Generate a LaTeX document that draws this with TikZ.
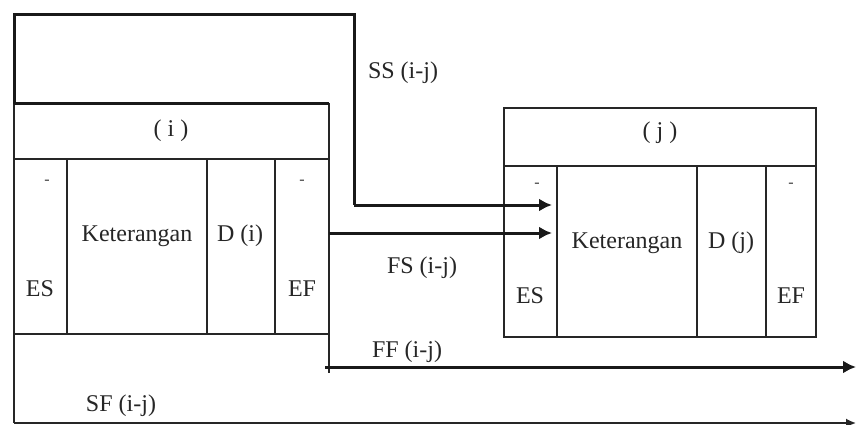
\documentclass[tikz,border=0pt]{standalone}
\usepackage{fontspec}
\setmainfont{Liberation Serif}
\usetikzlibrary{arrows.meta}
\begin{document}
\begin{tikzpicture}[x=1pt,y=-1pt,
  cell/.style={draw=black!85, line width=1.7pt, anchor=north west, inner sep=0pt, outer sep=0pt},
  lbl/.style={font=\fontsize{24}{28}\selectfont, text=black!85, inner sep=0pt},
  tick/.style={font=\fontsize{16}{18}\selectfont, text=black!75, inner sep=0pt},
  conn/.style={line width=3pt, draw=black!90, -{Latex[length=13pt,width=13pt]}},
  loopline/.style={line width=3pt, draw=black!90},
  thinline/.style={line width=1.7pt, draw=black!85}]
\useasboundingbox (0,0) rectangle (856,425);
% box i
\node[cell, minimum width=315pt, minimum height=55pt] (hdrI) at (14,104) {};
\node[cell, minimum width=53pt, minimum height=175pt] (esI) at (14,159) {};
\node[cell, minimum width=140pt, minimum height=175pt] (ketI) at (67,159) {};
\node[cell, minimum width=68pt, minimum height=175pt] (dI) at (207,159) {};
\node[cell, minimum width=54pt, minimum height=175pt] (efI) at (275,159) {};
\draw[loopline] (hdrI.north west) -- (hdrI.north east);
% box j
\node[cell, minimum width=312pt, minimum height=58pt] (hdrJ) at (504,108) {};
\node[cell, minimum width=53pt, minimum height=171pt] (esJ) at (504,166) {};
\node[cell, minimum width=140pt, minimum height=171pt] (ketJ) at (557,166) {};
\node[cell, minimum width=69pt, minimum height=171pt] (dJ) at (697,166) {};
\node[cell, minimum width=50pt, minimum height=171pt] (efJ) at (766,166) {};
% texts box i
\node[lbl] (tI) at (171,131) {( i )};
\node[lbl] (kI) at (137,236) {Keterangan};
\node[lbl] (dIt) at (240,236) {D (i)};
\node[lbl] (esIt) at (40,289) {ES};
\node[lbl] (efIt) at (302,289) {EF};
\node[tick] (mI1) at (47,182) {-};
\node[tick] (mI2) at (302,182) {-};
% texts box j
\node[lbl] (tJ) at (660,133) {( j )};
\node[lbl] (kJ) at (627,243) {Keterangan};
\node[lbl] (dJt) at (731,243) {D (j)};
\node[lbl] (esJt) at (530,296) {ES};
\node[lbl] (efJt) at (791,296) {EF};
\node[tick] (mJ1) at (537,185) {-};
\node[tick] (mJ2) at (791,185) {-};
% SS
\coordinate (ssA) at (14,15);
\coordinate (ssB) at (354,15);
\coordinate (ssC) at (354,205);
\draw[loopline] (hdrI.north west) -- (ssA) -- (ssB) -- (ssC);
\draw[conn, shorten >=5pt] (ssC) -- (ssC -| ketJ.west);
\node[lbl] (ssL) at (403,73) {SS (i-j)};
% FS
\coordinate (fsA) at (329,233);
\draw[conn, shorten >=5pt] (fsA) -- (fsA -| ketJ.west);
\node[lbl] (fsL) at (422,268) {FS (i-j)};
% FF
\coordinate (ffA) at (329,373);
\coordinate (ffS) at (325,367);
\coordinate (ffE) at (856,367);
\draw[thinline] (efI.south east) -- (ffA);
\draw[conn] (ffS) -- (ffE);
\node[lbl] (ffL) at (407,352) {FF (i-j)};
% SF
\coordinate (sfA) at (14,423);
\coordinate (sfE) at (856,423);
\draw[thinline] (esI.south west) -- (sfA);
\draw[thinline, -{Latex[length=10pt,width=9pt]}] (sfA) -- (sfE);
\node[lbl] (sfL) at (121,406) {SF (i-j)};
\end{tikzpicture}
\end{document}
